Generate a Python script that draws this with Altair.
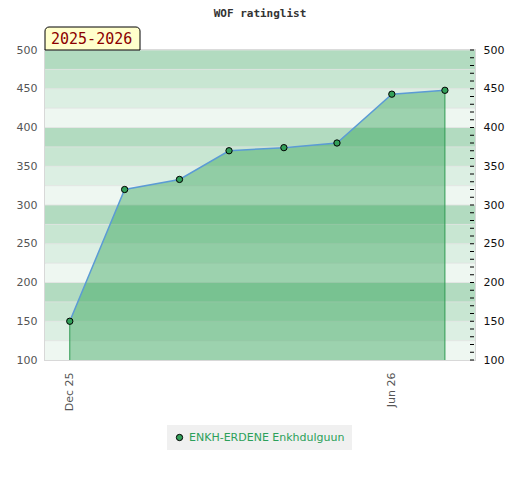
import altair as alt
import pandas as pd

# ---- data ----
months = ["2025-12-01", "2026-01-01", "2026-02-01", "2026-03-01",
          "2026-04-01", "2026-05-01", "2026-06-01", "2026-07-01"]
ratings = [150, 320, 333, 370, 374, 380, 443, 448]
player = "ENKH-ERDENE Enkhdulguun"
season = "2025-2026"
title_text = "WOF ratinglist"
x_tick_dates = ["2025-12-01", "2026-06-01"]
y_labels = list(range(100, 501, 50))
y_minor = list(range(100, 501, 10))
band_lows = list(range(100, 500, 25))
band_shades = ["d", "c", "b", "a"] * 4  # lightest..darkest within each 100
band_colors = {"a": "#b2dbc0", "b": "#c8e6d2", "c": "#dcefe3", "d": "#eef7f1"}

df = pd.DataFrame({"date": pd.to_datetime(months), "rating": ratings, "name": player})
bands = pd.DataFrame({"lo": band_lows, "hi": [b + 25 for b in band_lows], "shade": band_shades})
minor = pd.DataFrame({"v": y_minor})
edges = df.iloc[[0, len(df) - 1]]

W, H = 430, 310
xscale = alt.Scale(domain=[pd.Timestamp("2025-11-17").isoformat(), pd.Timestamp("2026-07-18").isoformat()])
yscale = alt.Scale(domain=[100, 500], zero=False, nice=False)

x_enc = alt.X("date:T", scale=xscale, title=None,
              axis=alt.Axis(values=[pd.Timestamp(d).isoformat() for d in x_tick_dates],
                            format="%b %y", labelAngle=270, ticks=False, domain=False,
                            grid=False, labelPadding=12, labelColor="#555",
                            labelFont="DejaVu Sans", labelFontSize=11))

y_left = alt.Axis(values=y_labels, ticks=False, domain=False, grid=False,
                  labelColor="#555", labelFont="DejaVu Sans", labelFontSize=11,
                  labelPadding=8, title=None)

band_layer = alt.Chart(bands).mark_rect().encode(
    y=alt.Y("lo:Q", scale=yscale, axis=y_left),
    y2="hi:Q",
    color=alt.Color("shade:N", scale=alt.Scale(domain=list(band_colors.keys()),
                                               range=list(band_colors.values())), legend=None),
)

grid_layer = alt.Chart(bands).mark_rule(color="#e2e2e2", strokeWidth=1, opacity=0.8).encode(
    y=alt.Y("hi:Q", scale=yscale, axis=None),
)

area_layer = alt.Chart(df).mark_area(color="#269f4e", opacity=0.41).encode(
    x=x_enc,
    y=alt.Y("rating:Q", scale=yscale, axis=None),
    y2=alt.datum(100),
)

rule_layer = alt.Chart(edges).mark_rule(color="#2f9a52", strokeWidth=1).encode(
    x=alt.X("date:T", scale=xscale),
    y=alt.Y("rating:Q", scale=yscale, axis=None),
    y2=alt.datum(100),
)

line_layer = alt.Chart(df).mark_line(color="#5b9bd5", strokeWidth=1.5).encode(
    x=alt.X("date:T", scale=xscale),
    y=alt.Y("rating:Q", scale=yscale, axis=None),
)

minor_layer = alt.Chart(minor).mark_rule(color="black", strokeWidth=1).encode(
    x=alt.value(W - 5), x2=alt.value(W - 1),
    y=alt.Y("v:Q", scale=yscale, axis=None),
)

right_axis = alt.Axis(orient="right", values=y_labels, ticks=False,
                      domain=False, grid=False, labelPadding=8, labelColor="#111",
                      labelFont="DejaVu Sans", labelFontSize=11, title=None)

point_layer = alt.Chart(df).mark_point(filled=True, size=40, stroke="black",
                                       strokeWidth=1, opacity=1).encode(
    x=alt.X("date:T", scale=xscale),
    y=alt.Y("rating:Q", scale=yscale, axis=right_axis),
    color=alt.Color("name:N", scale=alt.Scale(domain=[player], range=["#33a05a"]),
                    legend=alt.Legend(title=None, orient="none", legendX=122, legendY=375,
                                      fillColor="#f0f0f0", padding=7,
                                      symbolType="circle", symbolSize=40,
                                      symbolStrokeColor="black", symbolStrokeWidth=1,
                                      labelColor="#2ca05a", labelFont="DejaVu Sans",
                                      labelFontSize=11)),
)

box_layer = alt.Chart(pd.DataFrame({"t": [season]})).mark_rect(
    fill="#ffffcc", stroke="black", strokeWidth=1,
    cornerRadiusTopLeft=4, cornerRadiusTopRight=4,
).encode(x=alt.value(0), x2=alt.value(95), y=alt.value(-23), y2=alt.value(0))

label_layer = alt.Chart(pd.DataFrame({"t": [season]})).mark_text(
    align="left", baseline="middle", color="#8b0000", font="DejaVu Sans Mono",
    fontSize=15,
).encode(x=alt.value(6), y=alt.value(-11), text="t:N")

chart = alt.layer(
    band_layer, grid_layer, area_layer, rule_layer, line_layer, minor_layer,
    point_layer, box_layer, label_layer,
).resolve_axis(y="independent").resolve_scale(color="independent").properties(
    width=W, height=H,
    title=alt.TitleParams(title_text, font="DejaVu Sans Mono", fontSize=11,
                          fontWeight="bold", color="#333", offset=8, anchor="middle"),
    autosize=alt.AutoSizeParams(type="none"),
    padding={"left": 37, "top": 42, "right": 37, "bottom": 112},
).configure_view(stroke="#d8d8d8", strokeWidth=2)

chart.save("out.html", embed_options={"renderer": "svg", "actions": False})
